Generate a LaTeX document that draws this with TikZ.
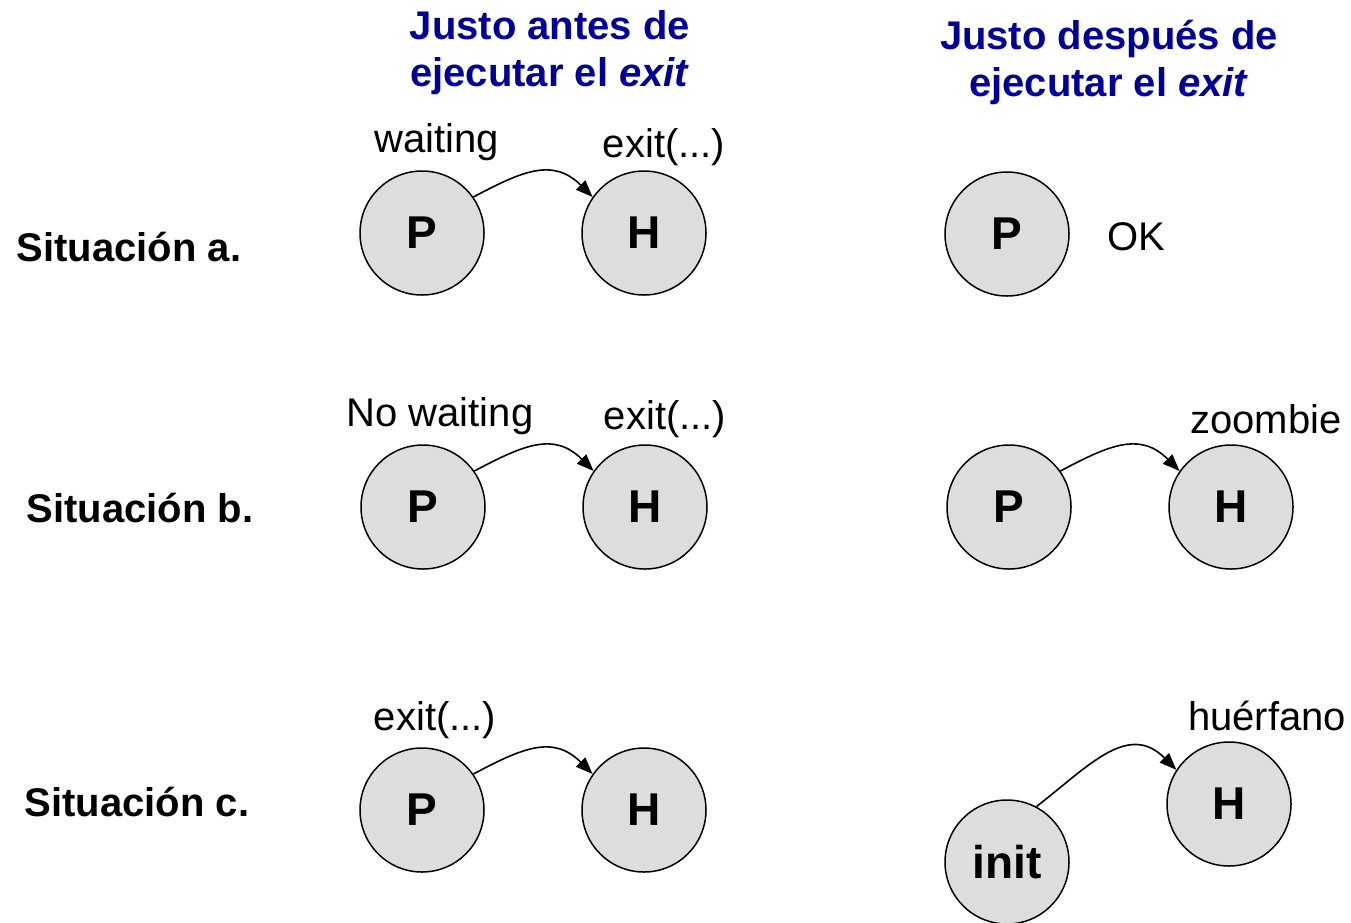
\documentclass[tikz,border=0pt]{standalone}
\usepackage{fontspec}
\setmainfont{Liberation Sans}
\usetikzlibrary{arrows.meta, positioning}
\definecolor{ttblue}{HTML}{000099}
\definecolor{procgray}{HTML}{DDDDDD}

\tikzset{
  proc/.style={circle, draw=black, fill=procgray, line width=1.5pt,
    minimum size=124pt, inner sep=0pt, font=\fontsize{46}{52}\selectfont\bfseries},
  lbl/.style={font=\fontsize{40}{47}\selectfont, inner sep=0pt},
  rowlbl/.style={font=\fontsize{40}{47}\selectfont\bfseries, inner sep=0pt},
  ttl/.style={font=\fontsize{40}{47}\selectfont\bfseries, text=ttblue,
    align=center, inner sep=0pt},
  link/.style={->, line width=1.6pt, looseness=1.2}
}

\begin{document}
\begin{tikzpicture}[x=1pt, y=-1pt, >={Triangle[length=17pt, width=13pt]}]

% Canvas (pixel coordinates)
\useasboundingbox (0,0) rectangle (1351,922);

% Titles
\node[ttl] (tbefore) at (550,53) {Justo antes de\\ejecutar el \textit{exit}};
\node[ttl] (tafter) at (1109,62) {Justo despu\'es de\\ejecutar el \textit{exit}};

% Row labels
\node[rowlbl] (sa) at (129,247) {Situaci\'on a.};
\node[rowlbl] (sb) at (140,508) {Situaci\'on b.};
\node[rowlbl] (sc) at (137,802) {Situaci\'on c.};

% Situation a
\node[proc] (aP) at (422,233) {P};
\node[proc] (aH) at (644,233) {H};
\node[lbl] (aPl) at (437,142) {waiting};
\node[lbl] (aHl) at (664,147) {exit(...)};
\draw[link] (aP.35) to[out=28, in=135] (aH.145);

\node[proc] (aP2) at (1007,234) {P};
\node[lbl] (aok) at (1136,237) {OK};

% Situation b
\node[proc] (bP) at (423,507) {P};
\node[proc] (bH) at (645,507) {H};
\node[lbl] (bPl) at (440,416) {No waiting};
\node[lbl] (bHl) at (665,419) {exit(...)};
\draw[link] (bP.35) to[out=28, in=135] (bH.145);

\node[proc] (bP2) at (1009,507) {P};
\node[proc] (bH2) at (1231,507) {H};
\node[lbl] (bz) at (1266,419) {zoombie};
\draw[link] (bP2.35) to[out=28, in=135] (bH2.145);

% Situation c
\node[proc] (cP) at (422,810) {P};
\node[proc] (cH) at (644,810) {H};
\node[lbl] (cPl) at (435,720) {exit(...)};
\draw[link] (cP.35) to[out=28, in=135] (cH.145);

\node[proc] (cinit) at (1007,862) {init};
\node[proc] (cH2) at (1229,804) {H};
\node[lbl] (chu) at (1267,716) {hu\'erfano};
\draw[link] (cinit.62) to[out=38, in=135] (cH2.147);

\end{tikzpicture}
\end{document}
